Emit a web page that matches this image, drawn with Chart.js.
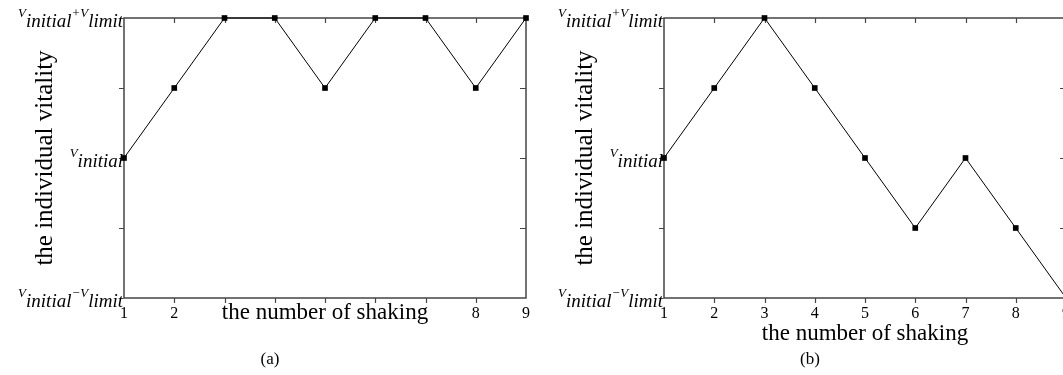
<!DOCTYPE html>
<html>
<head>
<meta charset="utf-8">
<script src="https://cdn.jsdelivr.net/npm/chart.js@4/dist/chart.umd.min.js"></script>
<style>
  html, body { margin: 0; padding: 0; background: #fff; overflow: hidden; }
  body { width: 1063px; height: 375px; position: relative; }
  .panel { position: absolute; top: 0; width: 540px; height: 350px; }
  .caption { position: absolute; top: 349px; width: 60px; text-align: center;
    font: 17px "Liberation Serif", serif; color: #000; }
</style>
</head>
<body>
<div class="panel" style="left:0"><canvas id="chartA"></canvas></div>
<div class="panel" style="left:540px"><canvas id="chartB"></canvas></div>
<div class="caption" style="left:240px">(a)</div>
<div class="caption" style="left:780px">(b)</div>

<script>
const shakingCounts = ["1", "2", "3", "4", "5", "6", "7", "8", "9"];
// vitality relative to V_initial, in units of V_limit
const vitalityA = [0, 0.5, 1, 1, 0.5, 1, 1, 0.5, 1];
const vitalityB = [0, 0.5, 1, 0.5, 0, -0.5, 0, -0.5, -1];
const yTickValues = [-1, 0, 1];
const yTickLabels = ["V_{initial}−V_{limit}", "V_{initial}", "V_{initial}+V_{limit}"];

const serif = "'Liberation Serif', 'Times New Roman', serif";
const tituloX = "the number of shaking";
const fuenteTituloX = 23;

// split "V_{initial}" into [{text, sub}]
function partesEtiqueta(label) {
  return label.split(/(_\{[^}]*\})/).filter((p) => p !== "").map((p) => {
    if (p.startsWith("_{")) return { text: p.slice(2, -1), sub: true };
    return { text: p, sub: false };
  });
}

const marcoYEtiquetas = {
  id: "marcoYEtiquetas",
  beforeDatasetsDraw(chart) {
    const { ctx, chartArea: a, scales } = chart;
    const x = scales.x;
    const y = scales.y;
    ctx.save();
    ctx.strokeStyle = "#444";
    ctx.lineWidth = 1.5;
    ctx.strokeRect(a.left, a.top, a.right - a.left, a.bottom - a.top);
    ctx.lineWidth = 1.2;
    ctx.beginPath();
    for (let i = 1; i < shakingCounts.length - 1; i++) {
      const px = Math.round(x.getPixelForValue(i)) + 0.5;
      ctx.moveTo(px, a.bottom);
      ctx.lineTo(px, a.bottom + 5);
      ctx.moveTo(px, a.top);
      ctx.lineTo(px, a.top + 5);
    }
    y.ticks.forEach((t) => {
      if (t.value <= y.min || t.value >= y.max) return;
      const py = Math.round(y.getPixelForValue(t.value)) + 0.5;
      ctx.moveTo(a.left - 5, py);
      ctx.lineTo(a.left, py);
      ctx.moveTo(a.right - 6, py);
      ctx.lineTo(a.right, py);
    });
    ctx.stroke();
    ctx.restore();
  },
  afterDraw(chart) {
    const { ctx, chartArea: a, scales } = chart;
    const y = scales.y;
    const fuenteMain = "italic 13px " + serif;
    const fuenteSub = "italic 19px " + serif;
    ctx.save();
    ctx.fillStyle = "#000";
    ctx.textBaseline = "alphabetic";
    ctx.textAlign = "left";
    yTickValues.forEach((v, i) => {
      const partes = partesEtiqueta(yTickLabels[i]);
      let total = 0;
      partes.forEach((p) => {
        ctx.font = p.sub ? fuenteSub : fuenteMain;
        p.w = ctx.measureText(p.text).width;
        total += p.w;
      });
      const py = y.getPixelForValue(v);
      let px = a.left - 1 - total;
      partes.forEach((p) => {
        ctx.font = p.sub ? fuenteSub : fuenteMain;
        ctx.fillText(p.text, px, p.sub ? py + 9 : py - 1);
        px += p.w;
      });
    });
    ctx.restore();
  },
};

function crearGrafica(canvasId, valores, paddingTituloX, ocultarBajoTitulo) {
  // tick labels that sit under the axis title are covered by it
  function colorTick(c) {
    if (!ocultarBajoTitulo) return "#000";
    const s = c.scale;
    const cx = c.chart.ctx;
    cx.save();
    cx.font = fuenteTituloX + "px " + serif;
    const w = cx.measureText(tituloX).width;
    cx.restore();
    const px = s.getPixelForTick(c.index);
    const centro = (s.left + s.right) / 2;
    return Math.abs(px - centro) < w / 2 + 6 ? "rgba(0,0,0,0)" : "#000";
  }

  const config = {
    type: "line",
    data: {
      labels: shakingCounts,
      datasets: [
        {
          data: valores,
          borderColor: "#000",
          borderWidth: 1,
          backgroundColor: "#000",
          pointStyle: "rect",
          pointRadius: 4,
          pointBackgroundColor: "#000",
          pointBorderWidth: 0,
          tension: 0,
          clip: false,
        },
      ],
    },
    options: {
      responsive: true,
      maintainAspectRatio: false,
      animation: false,
      events: [],
      layout: { padding: { top: 18, right: 14, bottom: 0, left: 0 } },
      plugins: { legend: { display: false }, tooltip: { enabled: false } },
      scales: {
        x: {
          type: "category",
          offset: false,
          grid: { display: false, drawTicks: false },
          border: { display: false },
          ticks: {
            autoSkip: false,
            maxRotation: 0,
            padding: 6,
            color: colorTick,
            font: { family: serif, size: 16 },
          },
          title: {
            display: true,
            text: tituloX,
            color: "#000",
            font: { family: serif, size: fuenteTituloX },
            padding: { top: 0, bottom: paddingTituloX },
          },
          afterFit(scale) {
            scale.height = 52;
          },
        },
        y: {
          min: -1,
          max: 1,
          grid: { display: false, drawTicks: false },
          border: { display: false },
          ticks: { stepSize: 0.5, display: false },
          title: {
            display: true,
            text: "the individual vitality",
            color: "#000",
            font: { family: serif, size: 25 },
            padding: { top: 30, bottom: 0 },
          },
          afterFit(scale) {
            scale.width = 124;
          },
        },
      },
    },
    plugins: [marcoYEtiquetas],
  };
  return new Chart(document.getElementById(canvasId), config);
}

crearGrafica("chartA", vitalityA, 23, true);
crearGrafica("chartB", vitalityB, 2, false);
</script>
</body>
</html>
